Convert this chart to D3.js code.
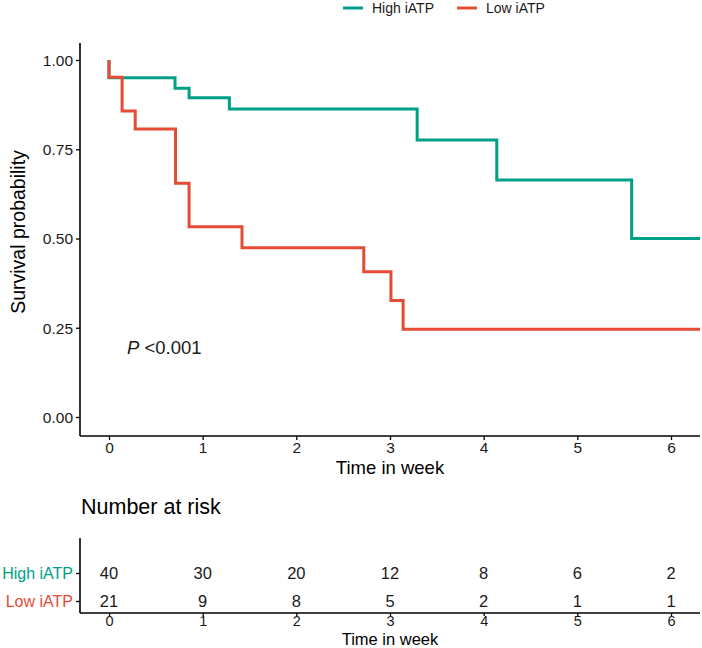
<!DOCTYPE html>
<html>
<head>
<meta charset="utf-8">
<script src="https://cdn.jsdelivr.net/npm/d3@7/dist/d3.min.js"></script>
<style>
html,body{margin:0;padding:0;background:#fff;}
svg{display:block;font-family:"Liberation Sans",Arial,sans-serif;}
</style>
</head>
<body>
<svg id="chart" width="702" height="648"></svg>
<script>
// ---- data ----
const groups = ["High iATP", "Low iATP"];
const colors = ["#00A087", "#E64B35"];
const highTimes = [0, 0, 0.705, 0.855, 1.285, 3.29, 4.14, 5.58, 6.31];
const highSurv  = [1.0, 0.95, 0.921, 0.894, 0.863, 0.776, 0.664, 0.5, 0.5];
const lowTimes  = [0, 0, 0.14, 0.28, 0.71, 0.855, 1.42, 2.72, 3.01, 3.14, 6.31];
const lowSurv   = [1.0, 0.952, 0.857, 0.807, 0.655, 0.533, 0.474, 0.407, 0.326, 0.246, 0.246];
const xTicks = [0, 1, 2, 3, 4, 5, 6];
const yTicks = [0, 0.25, 0.5, 0.75, 1.0];
const riskTimes = [0, 1, 2, 3, 4, 5, 6];
const highRisk = [40, 30, 20, 12, 8, 6, 2];
const lowRisk  = [21, 9, 8, 5, 2, 1, 1];
const pText = "<0.001";

(function () {
// ---- layout ----
const svg = d3.select("#chart");
const pL = 80, pR = 700, pT = 43, pB = 436;
const x = d3.scaleLinear().domain([0, 6]).range([109, 671]);
const y = d3.scaleLinear().domain([0, 1]).range([417, 60]);

// axes
const yAxis = svg.append("g").attr("transform", `translate(${pL},0)`)
  .call(d3.axisLeft(y).tickValues(yTicks).tickFormat(d3.format(".2f")).tickSize(4).tickSizeOuter(0));
yAxis.select(".domain").attr("d", `M0,${pT}V${pB}`);
const xAxis = svg.append("g").attr("transform", `translate(0,${pB})`)
  .call(d3.axisBottom(x).tickValues(xTicks).tickFormat(d3.format("d")).tickSize(4).tickSizeOuter(0));
xAxis.select(".domain").attr("d", `M${pL},0H${pR}`);
[yAxis, xAxis].forEach(a => {
  a.select(".domain").attr("stroke", "#000").attr("stroke-width", 1.6);
  a.selectAll(".tick line").attr("stroke", "#000").attr("stroke-width", 1.3);
  a.selectAll(".tick text").attr("fill", "#1a1a1a").style("font-size", "15.5px")
    .style("font-family", "'Liberation Sans',Arial,sans-serif");
});
yAxis.selectAll(".tick text").attr("x", -7).attr("dy", "0.35em");
xAxis.selectAll(".tick text").attr("y", 6).attr("dy", "0.71em");

// axis titles
svg.append("text").attr("transform", `translate(18,232) rotate(-90)`)
  .attr("text-anchor", "middle").attr("dominant-baseline", "central")
  .style("font-size", "19.5px").attr("fill", "#000").text("Survival probability");
svg.append("text").attr("x", (pL+pR)/2).attr("y", 467)
  .attr("text-anchor", "middle").attr("dominant-baseline", "central")
  .style("font-size", "18.5px").attr("fill", "#000").text("Time in week");

// curves
const line = d3.line().x(d => x(d[0])).y(d => y(d[1])).curve(d3.curveStepAfter);
const series = [d3.zip(highTimes, highSurv), d3.zip(lowTimes, lowSurv)];
series.forEach((s, i) => {
  svg.append("path").datum(s).attr("d", line).attr("fill", "none")
    .attr("stroke", colors[i]).attr("stroke-width", 3).attr("stroke-linejoin", "miter");
});

// p-value
const pt = svg.append("text").attr("x", 127).attr("y", 347).attr("dominant-baseline", "central")
  .style("font-size", "18.5px").attr("fill", "#1a1a1a");
pt.append("tspan").style("font-style", "italic").text("P");
pt.append("tspan").text(" " + pText);

// legend
const legX = [343, 457];
groups.forEach((g, i) => {
  svg.append("line").attr("x1", legX[i]).attr("x2", legX[i] + 20).attr("y1", 8).attr("y2", 8)
    .attr("stroke", colors[i]).attr("stroke-width", 3);
  svg.append("text").attr("x", legX[i] + 29).attr("y", 8).attr("dominant-baseline", "central")
    .style("font-size", "14px").attr("fill", "#1a1a1a").text(g);
});

// ---- risk table ----
const tTop = 538, tBottom = 613;
svg.append("text").attr("x", 81).attr("y", 507).attr("dominant-baseline", "central")
  .style("font-size", "21.5px").attr("fill", "#000").text("Number at risk");
const ry = d3.scalePoint().domain(groups).range([573, 601]);
const tyAxis = svg.append("g").attr("transform", `translate(${pL},0)`)
  .call(d3.axisLeft(ry).tickSize(4).tickSizeOuter(0));
tyAxis.select(".domain").attr("d", `M0,${tTop}V${tBottom}`);
const txAxis = svg.append("g").attr("transform", `translate(0,${tBottom})`)
  .call(d3.axisBottom(x).tickValues(xTicks).tickFormat(d3.format("d")).tickSize(3).tickSizeOuter(0));
txAxis.select(".domain").attr("d", `M${pL},0H${pR}`);
[tyAxis, txAxis].forEach(a => {
  a.select(".domain").attr("stroke", "#000").attr("stroke-width", 1.6);
  a.selectAll(".tick line").attr("stroke", "#000").attr("stroke-width", 1.3);
  a.selectAll(".tick text").style("font-size", "14.5px")
    .style("font-family", "'Liberation Sans',Arial,sans-serif").attr("fill", "#1a1a1a");
});
tyAxis.selectAll(".tick text").attr("x", -7).attr("dy", "0.35em")
  .attr("fill", (d, i) => colors[i]).style("font-size", "16px");
txAxis.selectAll(".tick text").attr("y", 3).attr("dy", "0.71em");
svg.append("text").attr("x", (pL+pR)/2).attr("y", 639)
  .attr("text-anchor", "middle").attr("dominant-baseline", "central")
  .style("font-size", "16.5px").attr("fill", "#000").text("Time in week");

[highRisk, lowRisk].forEach((arr, gi) => {
  svg.append("g").selectAll("text").data(d3.zip(riskTimes, arr)).join("text")
    .attr("x", d => x(d[0])).attr("y", ry(groups[gi]))
    .attr("text-anchor", "middle").attr("dominant-baseline", "central")
    .style("font-size", "16.5px").attr("fill", "#1a1a1a").text(d => d[1]);
});
})();
</script>
</body>
</html>
